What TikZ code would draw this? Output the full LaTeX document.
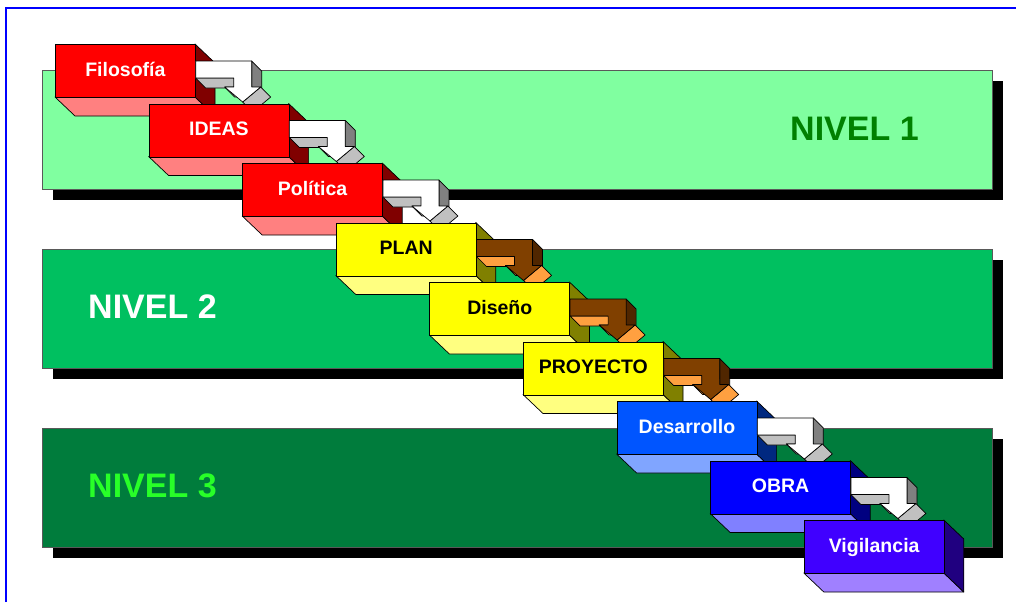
\documentclass[tikz,border=0pt]{standalone}
\usepackage{fontspec}
\setmainfont{Liberation Sans}
\definecolor{bandA}{RGB}{128,255,160}
\definecolor{bandB}{RGB}{0,192,96}
\definecolor{bandC}{RGB}{0,124,60}
\definecolor{nivA}{RGB}{0,128,0}
\definecolor{nivC}{RGB}{40,255,40}
\definecolor{redF}{RGB}{255,0,0}
\definecolor{redS}{RGB}{128,0,0}
\definecolor{redB}{RGB}{255,128,128}
\definecolor{yelF}{RGB}{255,255,0}
\definecolor{yelS}{RGB}{128,128,0}
\definecolor{yelB}{RGB}{255,255,128}
\definecolor{desF}{RGB}{0,85,255}
\definecolor{desS}{RGB}{0,40,128}
\definecolor{desB}{RGB}{128,165,255}
\definecolor{obrF}{RGB}{0,0,255}
\definecolor{obrS}{RGB}{0,0,128}
\definecolor{obrB}{RGB}{128,128,255}
\definecolor{vigF}{RGB}{64,0,255}
\definecolor{vigS}{RGB}{32,0,128}
\definecolor{vigB}{RGB}{160,128,255}
\definecolor{arwL}{RGB}{192,192,192}
\definecolor{arwD}{RGB}{128,128,128}
\definecolor{brnF}{RGB}{128,64,0}
\definecolor{brnD}{RGB}{80,38,0}
\definecolor{brnL}{RGB}{255,160,64}
\tikzset{
  bandbox/.style={draw=black!65, line width=0.8pt},
  bandshadow/.style={fill=black},
  face/.style={draw=black, line width=0.7pt, line join=round},
  boxfront/.style={face, minimum width=140pt, minimum height=53pt, inner sep=0pt,
    font=\bfseries\fontsize{19.5}{21}\selectfont, text height=14pt, text depth=3pt},
  nivel/.style={font=\bfseries\fontsize{34}{36}\selectfont, anchor=base west, inner sep=0pt},
}
% #1 name, #2 x, #3 y, #4 front, #5 side, #6 bottom, #7 text colour, #8 text
\newcommand{\drawstepbox}[8]{%
  \filldraw[face, fill=#6] (#2,#3+53) -- ++(140,0) -- ++(20,19) -- ++(-140,0) -- cycle;
  \filldraw[face, fill=#5] (#2+140,#3) -- ++(20,19) -- ++(0,53) -- ++(-20,-19) -- cycle;
  \node[boxfront, fill=#4, text=#7, anchor=north west] (#1) at (#2,#3) {#8};
}
% #1 box name, #2 front, #3 light, #4 dark
\newcommand{\drawbentarrow}[4]{%
  \begin{scope}[shift={(#1.north east)}]
    \filldraw[face, fill=#3] (0,34) -- (38,34) -- (48,44) -- (10,44) -- cycle;
    \filldraw[face, fill=#3] (29,43) -- (38,43) -- (48,53) -- (39,53) -- cycle;
    \filldraw[face, fill=#4] (56,17) -- (66,27) -- (66,53) -- (56,43) -- cycle;
    \filldraw[face, fill=#3] (65,43) -- (75,53) -- (57,68) -- (47,58) -- cycle;
    \filldraw[face, fill=#2] (0,17) -- (56,17) -- (56,43) -- (65,43) -- (47,58)
      -- (29,43) -- (38,43) -- (38,34) -- (0,34) -- cycle;
  \end{scope}
}
\begin{document}
\begin{tikzpicture}[x=1pt, y=-1pt]
  \useasboundingbox (0,0) rectangle (1016,602);
  \fill[white] (0,0) rectangle (1016,602);
  \draw[blue, line width=1.6pt] (6,602) -- (6,8) -- (1016,8);
  % bands
  \fill[bandshadow] (52.5,81) rectangle (1003,200);
  \filldraw[bandbox, fill=bandA] (42,70) rectangle (992,189);
  \fill[bandshadow] (52.5,260) rectangle (1003,379);
  \filldraw[bandbox, fill=bandB] (42,249) rectangle (992,368);
  \fill[bandshadow] (52.5,439) rectangle (1003,558);
  \filldraw[bandbox, fill=bandC] (42,428) rectangle (992,547);
  \node[nivel, text=nivA] (n1) at (790,140) {NIVEL 1};
  \node[nivel, text=white] (n2) at (88,318) {NIVEL 2};
  \node[nivel, text=nivC] (n3) at (88,497) {NIVEL 3};
  % steps
  \drawstepbox{b1}{55}{44}{redF}{redS}{redB}{white}{Filosofía}
  \drawbentarrow{b1}{white}{arwL}{arwD}
  \drawstepbox{b2}{148.6}{103.5}{redF}{redS}{redB}{white}{IDEAS}
  \drawbentarrow{b2}{white}{arwL}{arwD}
  \drawstepbox{b3}{242.2}{163}{redF}{redS}{redB}{white}{Política}
  \drawbentarrow{b3}{white}{arwL}{arwD}
  \drawstepbox{b4}{335.8}{222.5}{yelF}{yelS}{yelB}{black}{PLAN}
  \drawbentarrow{b4}{brnF}{brnL}{brnD}
  \drawstepbox{b5}{429.4}{282}{yelF}{yelS}{yelB}{black}{Diseño}
  \drawbentarrow{b5}{brnF}{brnL}{brnD}
  \drawstepbox{b6}{523}{341.5}{yelF}{yelS}{yelB}{black}{PROYECTO}
  \drawbentarrow{b6}{brnF}{brnL}{brnD}
  \drawstepbox{b7}{616.6}{401}{desF}{desS}{desB}{white}{Desarrollo}
  \drawbentarrow{b7}{white}{arwL}{arwD}
  \drawstepbox{b8}{710.2}{460.5}{obrF}{obrS}{obrB}{white}{OBRA}
  \drawbentarrow{b8}{white}{arwL}{arwD}
  \drawstepbox{b9}{803.8}{520}{vigF}{vigS}{vigB}{white}{Vigilancia}
\end{tikzpicture}
\end{document}
